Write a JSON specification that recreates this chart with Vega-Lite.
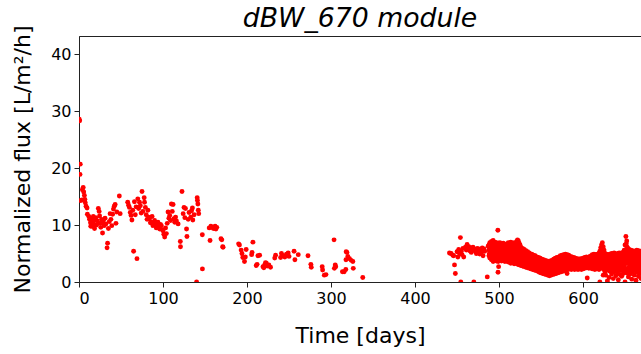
{
"$schema": "https://vega.github.io/schema/vega-lite/v6.json",
"autosize": {"type": "none"},
"padding": {"left": 79, "top": 36, "right": 0, "bottom": 72},
"width": 562,
"height": 246,
"title": {"text": "dBW_670 module", "font": "DejaVu Sans", "fontSize": 26.7, "fontStyle": "italic", "fontWeight": "normal", "color": "black", "anchor": "middle", "offset": -8},
"config": {
  "view": {"stroke": "#222", "strokeWidth": 1},
  "axis": {"domainColor": "#222", "tickColor": "#222", "labelColor": "black", "titleColor": "black", "labelFont": "DejaVu Sans", "titleFont": "DejaVu Sans", "labelFontSize": 16, "titleFontSize": 22, "titleFontWeight": "normal", "tickSize": 5, "labelPadding": 3, "grid": false}
},
"data": {"values": [
{"day":0.3,"flux":28.6},{"day":0.8,"flux":28.3},{"day":1.5,"flux":20.7},{"day":1.2,"flux":18.9},{"day":2,"flux":14.3},{"day":3.6,"flux":14.4},{"day":4,"flux":16.2},{"day":5,"flux":16.6},{"day":5.6,"flux":15.8},{"day":6.4,"flux":15.2},{"day":7,"flux":14.5},{"day":7.5,"flux":13.9},{"day":8.4,"flux":13.3},{"day":9.6,"flux":13.0},{"day":10,"flux":11.9},{"day":11.7,"flux":11.5},{"day":12.5,"flux":11.0},{"day":13.7,"flux":10.4},{"day":14,"flux":9.8},{"day":15,"flux":11.1},{"day":15.7,"flux":9.8},{"day":16.5,"flux":10.6},{"day":17,"flux":11.5},{"day":18,"flux":10.1},{"day":18.5,"flux":9.4},{"day":19,"flux":10.9},{"day":20,"flux":11.3},{"day":21,"flux":10.0},{"day":22,"flux":10.7},{"day":23,"flux":12.9},{"day":24,"flux":12.4},{"day":24.5,"flux":11.6},{"day":25,"flux":10.3},{"day":26,"flux":9.6},{"day":27,"flux":11.0},{"day":27.5,"flux":10.4},{"day":28,"flux":8.6},{"day":29,"flux":10.8},{"day":30,"flux":9.9},{"day":31,"flux":11.2},{"day":32,"flux":10.2},{"day":33.4,"flux":6.0},{"day":34,"flux":6.8},{"day":35,"flux":9.4},{"day":36,"flux":10.6},{"day":37,"flux":12.0},{"day":38,"flux":11.0},{"day":39,"flux":9.9},{"day":40,"flux":11.9},{"day":41,"flux":12.8},{"day":42,"flux":13.3},{"day":43,"flux":13.6},{"day":44,"flux":10.3},{"day":45,"flux":12.3},{"day":48,"flux":15.1},{"day":49,"flux":12.0},
{"day":58,"flux":14.0},{"day":59,"flux":13.5},{"day":60,"flux":13.1},{"day":61,"flux":12.2},{"day":62,"flux":11.7},{"day":63,"flux":10.9},{"day":64,"flux":12.6},{"day":65,"flux":5.4},{"day":66,"flux":14.1},{"day":67,"flux":11.8},{"day":68,"flux":13.2},{"day":69,"flux":4.1},{"day":70,"flux":14.6},{"day":71,"flux":12.9},{"day":72,"flux":14.0},{"day":73,"flux":13.4},{"day":74,"flux":12.1},{"day":75,"flux":15.9},{"day":76,"flux":12.4},{"day":77.6,"flux":14.8},{"day":78,"flux":14.0},{"day":79,"flux":13.1},{"day":80,"flux":11.8},{"day":81,"flux":11.0},{"day":82,"flux":12.6},{"day":83,"flux":11.4},{"day":84,"flux":11.1},{"day":85,"flux":10.4},{"day":86,"flux":10.5},{"day":87,"flux":11.5},{"day":88,"flux":9.9},{"day":89,"flux":10.2},{"day":90,"flux":10.8},{"day":91,"flux":10.0},{"day":92,"flux":9.5},{"day":93,"flux":10.4},{"day":94,"flux":10.5},{"day":95,"flux":9.7},{"day":96,"flux":9.3},{"day":97,"flux":10.1},{"day":98,"flux":9.9},{"day":99,"flux":9.2},{"day":100,"flux":9.0},{"day":101,"flux":8.4},{"day":102,"flux":7.9},{"day":103,"flux":9.5},{"day":104,"flux":8.5},{"day":105,"flux":10.3},{"day":106,"flux":12.3},{"day":107,"flux":11.2},{"day":108,"flux":11.7},{"day":109,"flux":10.8},{"day":110,"flux":13.7},{"day":111,"flux":12.4},{"day":112,"flux":13.6},{"day":113,"flux":11.1},{"day":114,"flux":10.5},{"day":115,"flux":11.4},{"day":116,"flux":10.7},{"day":118,"flux":10.2},{"day":120.6,"flux":7.1},{"day":120.8,"flux":6.2},{"day":122.6,"flux":15.9},{"day":124,"flux":12.0},{"day":125,"flux":13.1},{"day":126,"flux":11.3},{"day":126.7,"flux":12.9},{"day":128,"flux":9.3},{"day":128.5,"flux":8.0},{"day":130,"flux":11.0},{"day":131,"flux":12.2},{"day":133,"flux":11.4},{"day":134,"flux":12.5},{"day":135,"flux":13.0},{"day":135.5,"flux":10.9},{"day":137,"flux":11.8},{"day":140,"flux":0.0},{"day":140.7,"flux":14.8},{"day":141,"flux":14.3},{"day":141.5,"flux":13.7},{"day":142,"flux":12.6},{"day":142.5,"flux":12.0},{"day":146.8,"flux":8.3},{"day":146.9,"flux":2.3},{"day":155,"flux":9.5},{"day":156,"flux":7.3},{"day":157,"flux":9.8},{"day":158,"flux":9.6},{"day":160,"flux":9.4},{"day":162,"flux":9.8},{"day":163,"flux":9.3},{"day":164,"flux":9.6},{"day":169,"flux":7.6},{"day":170,"flux":7.4},{"day":171,"flux":6.2},{"day":171.5,"flux":6.1},
{"day":190,"flux":6.7},{"day":191,"flux":6.5},{"day":193,"flux":5.6},{"day":194,"flux":5.0},{"day":195,"flux":4.3},{"day":197,"flux":3.6},{"day":198,"flux":4.4},{"day":199,"flux":5.7},{"day":205.5,"flux":4.8},{"day":206,"flux":5.2},{"day":207,"flux":7.0},{"day":211,"flux":2.9},{"day":212,"flux":3.1},{"day":213,"flux":4.6},{"day":215,"flux":4.7},{"day":219,"flux":2.7},{"day":220,"flux":2.5},{"day":221,"flux":3.0},{"day":222,"flux":3.4},{"day":223,"flux":3.3},{"day":224,"flux":2.8},{"day":226,"flux":3.0},{"day":228,"flux":2.6},{"day":233,"flux":4.2},{"day":234,"flux":4.7},{"day":240,"flux":4.3},{"day":241,"flux":5.0},{"day":243,"flux":4.6},{"day":245,"flux":4.4},{"day":247,"flux":4.9},{"day":249,"flux":5.1},{"day":250,"flux":4.5},{"day":256,"flux":5.4},{"day":257,"flux":3.9},{"day":261,"flux":4.8},{"day":272.6,"flux":4.6},{"day":276,"flux":3.1},{"day":276.5,"flux":2.6},{"day":289.5,"flux":2.7},{"day":290,"flux":2.1},{"day":292,"flux":1.2},{"day":294,"flux":1.3},{"day":303.6,"flux":7.4},{"day":304,"flux":2.4},{"day":305,"flux":3.0},{"day":305.6,"flux":2.7},{"day":313.6,"flux":1.8},{"day":315.7,"flux":1.8},{"day":317.6,"flux":2.2},{"day":317.8,"flux":3.9},{"day":318,"flux":5.3},{"day":319,"flux":5.2},{"day":320,"flux":4.5},{"day":322,"flux":4.1},{"day":324,"flux":3.8},{"day":326,"flux":3.6},{"day":326.5,"flux":2.4},{"day":337.8,"flux":0.8},
{"day":441,"flux":5.1},{"day":443,"flux":5.0},{"day":445,"flux":4.7},{"day":446,"flux":4.6},{"day":447,"flux":3.0},{"day":448,"flux":1.5},{"day":450,"flux":5.3},{"day":451,"flux":4.4},{"day":452,"flux":5.7},{"day":453,"flux":5.0},{"day":454,"flux":7.8},{"day":454.5,"flux":0.0},{"day":455,"flux":5.4},{"day":456,"flux":4.8},{"day":457,"flux":5.9},{"day":458,"flux":4.4},{"day":460,"flux":6.1},{"day":461,"flux":5.6},{"day":462,"flux":6.6},{"day":463,"flux":5.9},{"day":464,"flux":6.2},{"day":465,"flux":5.5},{"day":466,"flux":6.0},{"day":467,"flux":5.2},{"day":468,"flux":5.8},{"day":469,"flux":6.1},{"day":470,"flux":0.0},{"day":471,"flux":5.5},{"day":472,"flux":5.7},{"day":473,"flux":5.0},{"day":474,"flux":5.9},{"day":475,"flux":5.4},{"day":476,"flux":5.8},{"day":477,"flux":4.9},{"day":478,"flux":5.6},{"day":479,"flux":5.2},{"day":480,"flux":6.0},{"day":481,"flux":4.6},{"day":482,"flux":5.8},{"day":483,"flux":5.4},{"day":486,"flux":0.9},{"day":487,"flux":6.3},{"day":498.6,"flux":9.1},{"day":498.8,"flux":1.7},{"day":499.5,"flux":2.7},
{"day":488,"flux":6.5},{"day":488,"flux":5.6},{"day":488,"flux":4.6},
{"day":489,"flux":6.9},{"day":489,"flux":5.9},{"day":489,"flux":4.2},
{"day":490,"flux":6.2},{"day":490,"flux":5.4},{"day":490,"flux":4.8},
{"day":491,"flux":7.1},{"day":491,"flux":5.7},{"day":491,"flux":3.9},
{"day":492,"flux":6.8},{"day":492,"flux":5.2},{"day":492,"flux":4.4},
{"day":493,"flux":7.3},{"day":493,"flux":6.0},{"day":493,"flux":3.6},
{"day":494,"flux":6.6},{"day":494,"flux":5.5},{"day":494,"flux":4.1},
{"day":495,"flux":7.0},{"day":495,"flux":5.8},{"day":495,"flux":3.8},
{"day":496,"flux":6.7},{"day":496,"flux":5.3},{"day":496,"flux":4.3},
{"day":497,"flux":6.9},{"day":497,"flux":5.6},{"day":497,"flux":3.7},
{"day":498,"flux":6.4},{"day":498,"flux":5.1},{"day":498,"flux":4.0},
{"day":499,"flux":6.8},{"day":499,"flux":5.5},{"day":499,"flux":3.6},
{"day":500,"flux":6.5},{"day":500,"flux":5.2},{"day":500,"flux":4.2},
{"day":501,"flux":6.9},{"day":501,"flux":5.4},{"day":501,"flux":3.9},
{"day":502,"flux":6.3},{"day":502,"flux":5.0},{"day":502,"flux":4.4},
{"day":503,"flux":6.7},{"day":503,"flux":5.3},{"day":503,"flux":3.7},
{"day":504,"flux":6.4},{"day":504,"flux":5.6},{"day":504,"flux":4.1},
{"day":505,"flux":6.8},{"day":505,"flux":5.1},{"day":505,"flux":3.8},
{"day":506,"flux":6.2},{"day":506,"flux":5.4},{"day":506,"flux":4.3},
{"day":507,"flux":6.6},{"day":507,"flux":4.9},{"day":507,"flux":3.6},
{"day":508,"flux":6.3},{"day":508,"flux":5.2},{"day":508,"flux":4.0},
{"day":509,"flux":6.7},{"day":509,"flux":5.5},{"day":509,"flux":3.7},
{"day":510,"flux":6.5},{"day":510,"flux":5.0},{"day":510,"flux":3.9},
{"day":511,"flux":6.9},{"day":511,"flux":5.3},{"day":511,"flux":3.5},
{"day":512,"flux":6.4},{"day":512,"flux":4.8},{"day":512,"flux":4.0},
{"day":513,"flux":6.8},{"day":513,"flux":5.2},{"day":513,"flux":3.6},
{"day":514,"flux":7.0},{"day":514,"flux":5.5},{"day":514,"flux":3.3},
{"day":515,"flux":6.6},{"day":515,"flux":5.0},{"day":515,"flux":3.8},
{"day":516,"flux":6.8},{"day":516,"flux":4.7},{"day":516,"flux":3.4},
{"day":517,"flux":6.3},{"day":517,"flux":5.1},{"day":517,"flux":3.7},
{"day":518,"flux":6.9},{"day":518,"flux":5.4},{"day":518,"flux":3.2},
{"day":519,"flux":6.5},{"day":519,"flux":4.9},{"day":519,"flux":3.6},
{"day":520,"flux":6.7},{"day":520,"flux":5.2},{"day":520,"flux":3.3},
{"day":521,"flux":7.1},{"day":521,"flux":5.0},{"day":521,"flux":3.6},
{"day":522,"flux":7.4},{"day":522,"flux":5.4},{"day":522,"flux":3.1},
{"day":523,"flux":7.2},{"day":523,"flux":5.1},{"day":523,"flux":3.5},
{"day":524,"flux":6.8},{"day":524,"flux":4.8},{"day":524,"flux":3.0},
{"day":525,"flux":6.5},{"day":525,"flux":5.0},{"day":525,"flux":3.4},
{"day":526,"flux":6.1},{"day":526,"flux":4.6},{"day":526,"flux":2.9},
{"day":527,"flux":5.8},{"day":527,"flux":4.4},{"day":527,"flux":3.3},
{"day":528,"flux":5.9},{"day":528,"flux":4.6},{"day":528,"flux":2.8},
{"day":529,"flux":5.5},{"day":529,"flux":4.2},{"day":529,"flux":3.1},
{"day":530,"flux":5.7},{"day":530,"flux":4.0},{"day":530,"flux":2.7},
{"day":531,"flux":5.3},{"day":531,"flux":4.3},{"day":531,"flux":3.0},
{"day":532,"flux":5.5},{"day":532,"flux":3.9},{"day":532,"flux":2.6},
{"day":533,"flux":5.1},{"day":533,"flux":4.1},{"day":533,"flux":2.9},
{"day":534,"flux":5.3},{"day":534,"flux":3.8},{"day":534,"flux":2.5},
{"day":535,"flux":4.9},{"day":535,"flux":3.7},{"day":535,"flux":2.8},
{"day":536,"flux":5.1},{"day":536,"flux":3.9},{"day":536,"flux":2.4},
{"day":537,"flux":4.8},{"day":537,"flux":3.5},{"day":537,"flux":2.7},
{"day":538,"flux":4.6},{"day":538,"flux":3.7},{"day":538,"flux":2.3},
{"day":539,"flux":4.9},{"day":539,"flux":3.4},{"day":539,"flux":2.6},
{"day":540,"flux":4.5},{"day":540,"flux":3.3},{"day":540,"flux":2.2},
{"day":541,"flux":4.7},{"day":541,"flux":3.6},{"day":541,"flux":2.5},
{"day":542,"flux":4.4},{"day":542,"flux":3.2},{"day":542,"flux":2.1},
{"day":543,"flux":4.6},{"day":543,"flux":3.4},{"day":543,"flux":2.4},
{"day":544,"flux":4.2},{"day":544,"flux":3.0},{"day":544,"flux":2.0},
{"day":545,"flux":4.4},{"day":545,"flux":3.2},{"day":545,"flux":2.2},
{"day":546,"flux":4.1},{"day":546,"flux":2.9},{"day":546,"flux":1.9},
{"day":547,"flux":4.3},{"day":547,"flux":3.1},{"day":547,"flux":2.1},
{"day":548,"flux":3.9},{"day":548,"flux":2.8},{"day":548,"flux":1.7},
{"day":549,"flux":4.2},{"day":549,"flux":3.0},{"day":549,"flux":2.0},
{"day":550,"flux":3.8},{"day":550,"flux":2.7},{"day":550,"flux":1.6},
{"day":551,"flux":4.0},{"day":551,"flux":2.9},{"day":551,"flux":1.9},
{"day":552,"flux":3.7},{"day":552,"flux":2.6},{"day":552,"flux":1.5},
{"day":553,"flux":3.9},{"day":553,"flux":2.8},{"day":553,"flux":1.8},
{"day":554,"flux":3.6},{"day":554,"flux":2.5},{"day":554,"flux":1.4},
{"day":555,"flux":3.8},{"day":555,"flux":2.7},{"day":555,"flux":1.7},
{"day":556,"flux":3.5},{"day":556,"flux":2.4},{"day":556,"flux":1.3},
{"day":557,"flux":3.7},{"day":557,"flux":2.6},{"day":557,"flux":1.6},
{"day":558,"flux":3.4},{"day":558,"flux":2.3},{"day":558,"flux":1.2},
{"day":559,"flux":3.6},{"day":559,"flux":2.5},{"day":559,"flux":1.5},
{"day":560,"flux":3.5},{"day":560,"flux":2.2},{"day":560,"flux":1.1},
{"day":561,"flux":3.7},{"day":561,"flux":2.4},{"day":561,"flux":1.4},
{"day":562,"flux":3.4},{"day":562,"flux":2.6},{"day":562,"flux":1.2},
{"day":563,"flux":3.8},{"day":563,"flux":2.3},{"day":563,"flux":1.5},
{"day":564,"flux":3.6},{"day":564,"flux":2.7},{"day":564,"flux":1.3},
{"day":565,"flux":4.0},{"day":565,"flux":2.5},{"day":565,"flux":1.6},
{"day":566,"flux":3.8},{"day":566,"flux":2.8},{"day":566,"flux":1.4},
{"day":567,"flux":4.2},{"day":567,"flux":2.6},{"day":567,"flux":1.7},
{"day":568,"flux":4.0},{"day":568,"flux":3.0},{"day":568,"flux":1.5},
{"day":569,"flux":4.3},{"day":569,"flux":2.8},{"day":569,"flux":1.8},
{"day":570,"flux":4.1},{"day":570,"flux":3.1},{"day":570,"flux":1.6},
{"day":571,"flux":4.4},{"day":571,"flux":2.9},{"day":571,"flux":1.9},
{"day":572,"flux":4.2},{"day":572,"flux":3.2},{"day":572,"flux":1.7},
{"day":573,"flux":4.6},{"day":573,"flux":3.0},{"day":573,"flux":2.0},
{"day":574,"flux":4.3},{"day":574,"flux":3.3},{"day":574,"flux":1.8},
{"day":575,"flux":4.7},{"day":575,"flux":3.1},{"day":575,"flux":2.1},
{"day":576,"flux":4.5},{"day":576,"flux":3.5},{"day":576,"flux":1.9},
{"day":577,"flux":4.8},{"day":577,"flux":3.3},{"day":577,"flux":2.2},
{"day":578,"flux":4.4},{"day":578,"flux":3.6},{"day":578,"flux":2.0},
{"day":579,"flux":4.9},{"day":579,"flux":3.4},{"day":579,"flux":2.3},
{"day":580,"flux":4.6},{"day":580,"flux":3.7},{"day":580,"flux":2.1},
{"day":581,"flux":4.8},{"day":581,"flux":3.5},{"day":581,"flux":1.5},
{"day":582,"flux":4.5},{"day":582,"flux":3.3},{"day":582,"flux":2.2},
{"day":583,"flux":4.7},{"day":583,"flux":3.6},{"day":583,"flux":2.5},
{"day":584,"flux":4.3},{"day":584,"flux":3.4},{"day":584,"flux":2.3},
{"day":585,"flux":4.5},{"day":585,"flux":3.2},{"day":585,"flux":2.4},
{"day":586,"flux":4.2},{"day":586,"flux":3.5},{"day":586,"flux":2.2},
{"day":587,"flux":4.4},{"day":587,"flux":3.1},{"day":587,"flux":2.5},
{"day":588,"flux":4.1},{"day":588,"flux":3.3},{"day":588,"flux":2.3},
{"day":589,"flux":4.3},{"day":589,"flux":3.0},{"day":589,"flux":2.4},
{"day":590,"flux":4.0},{"day":590,"flux":3.2},{"day":590,"flux":2.2},
{"day":591,"flux":4.2},{"day":591,"flux":3.4},{"day":591,"flux":2.5},
{"day":592,"flux":3.9},{"day":592,"flux":3.1},{"day":592,"flux":2.3},
{"day":593,"flux":4.1},{"day":593,"flux":3.3},{"day":593,"flux":2.4},
{"day":594,"flux":3.8},{"day":594,"flux":3.0},{"day":594,"flux":2.2},
{"day":595,"flux":4.0},{"day":595,"flux":3.2},{"day":595,"flux":2.5},
{"day":596,"flux":3.9},{"day":596,"flux":3.4},{"day":596,"flux":2.3},
{"day":597,"flux":4.1},{"day":597,"flux":3.1},{"day":597,"flux":2.4},
{"day":598,"flux":3.8},{"day":598,"flux":3.3},{"day":598,"flux":2.2},
{"day":599,"flux":4.0},{"day":599,"flux":3.0},{"day":599,"flux":2.5},
{"day":600,"flux":4.2},{"day":600,"flux":3.2},{"day":600,"flux":2.3},
{"day":601,"flux":4.0},{"day":601,"flux":3.4},{"day":601,"flux":2.6},
{"day":602,"flux":4.3},{"day":602,"flux":3.1},{"day":602,"flux":2.4},
{"day":603,"flux":4.1},{"day":603,"flux":3.3},{"day":603,"flux":2.7},
{"day":604,"flux":4.4},{"day":604,"flux":3.5},{"day":604,"flux":2.5},
{"day":605,"flux":4.2},{"day":605,"flux":3.2},{"day":605,"flux":0.7},
{"day":606,"flux":4.3},{"day":606,"flux":3.4},{"day":606,"flux":2.6},
{"day":607,"flux":4.1},{"day":607,"flux":3.1},{"day":607,"flux":2.4},
{"day":608,"flux":4.5},{"day":608,"flux":3.5},{"day":608,"flux":2.7},
{"day":609,"flux":4.3},{"day":609,"flux":3.3},{"day":609,"flux":2.5},
{"day":610,"flux":4.6},{"day":610,"flux":3.6},{"day":610,"flux":2.6},
{"day":611,"flux":4.8},{"day":611,"flux":3.4},{"day":611,"flux":2.3},
{"day":612,"flux":4.5},{"day":612,"flux":3.7},{"day":612,"flux":2.6},
{"day":613,"flux":4.9},{"day":613,"flux":3.5},{"day":613,"flux":2.4},
{"day":614,"flux":4.6},{"day":614,"flux":3.8},{"day":614,"flux":2.2},
{"day":615,"flux":4.8},{"day":615,"flux":3.6},{"day":615,"flux":2.5},
{"day":616,"flux":4.5},{"day":616,"flux":3.4},{"day":616,"flux":2.3},
{"day":617,"flux":4.9},{"day":617,"flux":3.7},{"day":617,"flux":2.6},
{"day":618,"flux":4.7},{"day":618,"flux":3.5},{"day":618,"flux":2.4},
{"day":619,"flux":5.0},{"day":619,"flux":3.8},{"day":619,"flux":2.2},
{"day":620,"flux":5.4},{"day":620,"flux":4.0},{"day":620,"flux":0.0},
{"day":621,"flux":6.0},{"day":621,"flux":4.3},{"day":621,"flux":2.7},
{"day":622,"flux":6.5},{"day":622,"flux":4.7},{"day":622,"flux":2.4},
{"day":623,"flux":6.9},{"day":623,"flux":5.2},{"day":623,"flux":2.8},
{"day":624,"flux":6.2},{"day":624,"flux":4.6},{"day":624,"flux":1.2},
{"day":625,"flux":5.6},{"day":625,"flux":4.1},{"day":625,"flux":2.2},
{"day":626,"flux":5.0},{"day":626,"flux":3.7},{"day":626,"flux":1.8},
{"day":627,"flux":4.7},{"day":627,"flux":3.5},{"day":627,"flux":1.2},
{"day":628,"flux":4.9},{"day":628,"flux":3.8},{"day":628,"flux":2.0},
{"day":629,"flux":4.6},{"day":629,"flux":3.4},{"day":629,"flux":0.2},
{"day":630,"flux":4.8},{"day":630,"flux":3.6},{"day":630,"flux":2.3},
{"day":631,"flux":4.5},{"day":631,"flux":3.3},{"day":631,"flux":0.8},
{"day":632,"flux":4.9},{"day":632,"flux":3.7},{"day":632,"flux":1.9},
{"day":633,"flux":4.7},{"day":633,"flux":3.4},{"day":633,"flux":2.4},
{"day":634,"flux":5.0},{"day":634,"flux":3.8},{"day":634,"flux":1.4},
{"day":635,"flux":4.6},{"day":635,"flux":3.5},{"day":635,"flux":2.1},
{"day":636,"flux":4.8},{"day":636,"flux":3.2},{"day":636,"flux":0.6},
{"day":637,"flux":5.1},{"day":637,"flux":3.6},{"day":637,"flux":1.8},
{"day":638,"flux":4.7},{"day":638,"flux":3.9},{"day":638,"flux":2.3},
{"day":639,"flux":4.9},{"day":639,"flux":3.4},{"day":639,"flux":1.1},
{"day":640,"flux":4.6},{"day":640,"flux":3.7},{"day":640,"flux":2.0},
{"day":641,"flux":5.0},{"day":641,"flux":3.3},{"day":641,"flux":1.6},
{"day":642,"flux":4.8},{"day":642,"flux":3.6},{"day":642,"flux":0.4},
{"day":643,"flux":5.1},{"day":643,"flux":3.9},{"day":643,"flux":2.2},
{"day":644,"flux":4.7},{"day":644,"flux":3.5},{"day":644,"flux":1.3},
{"day":645,"flux":5.0},{"day":645,"flux":3.8},{"day":645,"flux":2.0},
{"day":646,"flux":4.8},{"day":646,"flux":3.4},{"day":646,"flux":1.0},
{"day":647,"flux":5.2},{"day":647,"flux":3.7},{"day":647,"flux":2.3},
{"day":648,"flux":5.0},{"day":648,"flux":3.9},{"day":648,"flux":1.5},
{"day":649,"flux":5.6},{"day":649,"flux":4.2},{"day":649,"flux":2.1},
{"day":650,"flux":6.5},{"day":650,"flux":4.8},{"day":650,"flux":0.0},
{"day":651,"flux":8.0},{"day":651,"flux":5.5},{"day":651,"flux":2.4},
{"day":652,"flux":7.2},{"day":652,"flux":5.0},{"day":652,"flux":1.6},
{"day":653,"flux":6.0},{"day":653,"flux":4.4},{"day":653,"flux":2.2},
{"day":654,"flux":5.5},{"day":654,"flux":4.0},{"day":654,"flux":0.9},
{"day":655,"flux":5.7},{"day":655,"flux":4.3},{"day":655,"flux":2.0},
{"day":656,"flux":5.3},{"day":656,"flux":3.9},{"day":656,"flux":1.4},
{"day":657,"flux":5.6},{"day":657,"flux":3.6},{"day":657,"flux":2.5},
{"day":658,"flux":5.2},{"day":658,"flux":4.1},{"day":658,"flux":0.5},
{"day":659,"flux":5.5},{"day":659,"flux":3.8},{"day":659,"flux":1.8},
{"day":660,"flux":5.1},{"day":660,"flux":3.5},{"day":660,"flux":2.3},
{"day":661,"flux":5.4},{"day":661,"flux":4.0},{"day":661,"flux":1.2},
{"day":662,"flux":5.0},{"day":662,"flux":3.7},{"day":662,"flux":2.1},
{"day":663,"flux":5.3},{"day":663,"flux":3.4},{"day":663,"flux":0.3},
{"day":664,"flux":5.6},{"day":664,"flux":3.9},{"day":664,"flux":1.7},
{"day":665,"flux":5.2},{"day":665,"flux":3.6},{"day":665,"flux":2.4},
{"day":666,"flux":5.5},{"day":666,"flux":4.1},{"day":666,"flux":1.0},
{"day":667,"flux":5.1},{"day":667,"flux":3.8},{"day":667,"flux":2.0},
{"day":668,"flux":5.4},{"day":668,"flux":3.5},{"day":668,"flux":1.5},
{"day":669,"flux":5.0},{"day":669,"flux":3.9},{"day":669,"flux":0.6},
{"day":488.5,"flux":6.2},{"day":488.5,"flux":5.0},{"day":489.5,"flux":6.3},{"day":489.5,"flux":4.9},{"day":490.5,"flux":6.0},{"day":490.5,"flux":5.0},{"day":491.5,"flux":6.4},{"day":491.5,"flux":4.7},{"day":492.5,"flux":6.5},{"day":492.5,"flux":4.6},{"day":493.5,"flux":6.6},{"day":493.5,"flux":4.8},{"day":494.5,"flux":6.1},{"day":494.5,"flux":4.7},{"day":495.5,"flux":6.4},{"day":495.5,"flux":4.9},{"day":496.5,"flux":6.0},{"day":496.5,"flux":4.6},{"day":497.5,"flux":6.2},{"day":497.5,"flux":4.5},{"day":498.5,"flux":5.8},{"day":498.5,"flux":4.6},{"day":499.5,"flux":6.1},{"day":499.5,"flux":4.5},
{"day":500.5,"flux":5.9},{"day":500.5,"flux":4.6},{"day":501.5,"flux":6.2},{"day":501.5,"flux":4.4},{"day":502.5,"flux":5.7},{"day":502.5,"flux":4.7},{"day":503.5,"flux":6.0},{"day":503.5,"flux":4.4},{"day":504.5,"flux":5.9},{"day":504.5,"flux":4.8},{"day":505.5,"flux":6.0},{"day":505.5,"flux":4.4},{"day":506.5,"flux":5.8},{"day":506.5,"flux":4.8},{"day":507.5,"flux":5.7},{"day":507.5,"flux":4.2},{"day":508.5,"flux":5.8},{"day":508.5,"flux":4.5},{"day":509.5,"flux":6.1},{"day":509.5,"flux":4.6},
{"day":510.5,"flux":5.7},{"day":510.5,"flux":4.4},{"day":511.5,"flux":6.1},{"day":511.5,"flux":4.3},{"day":512.5,"flux":5.6},{"day":512.5,"flux":4.4},{"day":513.5,"flux":6.0},{"day":513.5,"flux":4.3},{"day":514.5,"flux":6.2},{"day":514.5,"flux":4.3},{"day":515.5,"flux":5.8},{"day":515.5,"flux":4.4},{"day":516.5,"flux":5.7},{"day":516.5,"flux":4.0},{"day":517.5,"flux":5.7},{"day":517.5,"flux":4.4},{"day":518.5,"flux":6.1},{"day":518.5,"flux":4.2},{"day":519.5,"flux":5.7},{"day":519.5,"flux":4.2},
{"day":520.5,"flux":6.0},{"day":520.5,"flux":4.2},{"day":521.5,"flux":6.1},{"day":521.5,"flux":4.3},{"day":522.5,"flux":6.3},{"day":522.5,"flux":4.2},{"day":523.5,"flux":6.1},{"day":523.5,"flux":4.2},{"day":524.5,"flux":5.8},{"day":524.5,"flux":3.9},{"day":525.5,"flux":5.7},{"day":525.5,"flux":4.1},{"day":526.5,"flux":5.3},{"day":526.5,"flux":3.7},{"day":527.5,"flux":5.1},{"day":527.5,"flux":3.8},{"day":528.5,"flux":5.2},{"day":528.5,"flux":3.6},{"day":529.5,"flux":4.9},{"day":529.5,"flux":3.6},
{"day":530.5,"flux":4.9},{"day":530.5,"flux":3.3},{"day":531.5,"flux":4.8},{"day":531.5,"flux":3.6},{"day":532.5,"flux":4.7},{"day":532.5,"flux":3.2},{"day":533.5,"flux":4.6},{"day":533.5,"flux":3.5},{"day":534.5,"flux":4.5},{"day":534.5,"flux":3.1},{"day":535.5,"flux":4.3},{"day":535.5,"flux":3.2},{"day":536.5,"flux":4.5},{"day":536.5,"flux":3.1},{"day":537.5,"flux":4.1},{"day":537.5,"flux":3.1},{"day":538.5,"flux":4.1},{"day":538.5,"flux":3.0},{"day":539.5,"flux":4.2},{"day":539.5,"flux":2.9},
{"day":540.5,"flux":3.9},{"day":540.5,"flux":2.7},{"day":541.5,"flux":4.1},{"day":541.5,"flux":3.0},{"day":542.5,"flux":3.8},{"day":542.5,"flux":2.6},{"day":543.5,"flux":4.0},{"day":543.5,"flux":2.9},{"day":544.5,"flux":3.6},{"day":544.5,"flux":2.5},{"day":545.5,"flux":3.8},{"day":545.5,"flux":2.7},{"day":546.5,"flux":3.5},{"day":546.5,"flux":2.4},{"day":547.5,"flux":3.7},{"day":547.5,"flux":2.6},{"day":548.5,"flux":3.4},{"day":548.5,"flux":2.2},{"day":549.5,"flux":3.6},{"day":549.5,"flux":2.5},
{"day":550.5,"flux":3.3},{"day":550.5,"flux":2.1},{"day":551.5,"flux":3.4},{"day":551.5,"flux":2.4},{"day":552.5,"flux":3.2},{"day":552.5,"flux":2.0},{"day":553.5,"flux":3.3},{"day":553.5,"flux":2.3},{"day":554.5,"flux":3.1},{"day":554.5,"flux":1.9},{"day":555.5,"flux":3.2},{"day":555.5,"flux":2.2},{"day":556.5,"flux":3.0},{"day":556.5,"flux":1.8},{"day":557.5,"flux":3.1},{"day":557.5,"flux":2.1},{"day":558.5,"flux":2.9},{"day":558.5,"flux":1.7},{"day":559.5,"flux":3.0},{"day":559.5,"flux":2.0},
{"day":560.5,"flux":2.9},{"day":560.5,"flux":1.6},{"day":561.5,"flux":3.1},{"day":561.5,"flux":1.9},{"day":562.5,"flux":3.0},{"day":562.5,"flux":1.8},{"day":563.5,"flux":3.1},{"day":563.5,"flux":2.0},{"day":564.5,"flux":3.2},{"day":564.5,"flux":1.9},{"day":565.5,"flux":3.2},{"day":565.5,"flux":2.1},{"day":566.5,"flux":3.3},{"day":566.5,"flux":2.0},{"day":567.5,"flux":3.4},{"day":567.5,"flux":2.2},{"day":568.5,"flux":3.5},{"day":568.5,"flux":2.2},{"day":569.5,"flux":3.5},{"day":569.5,"flux":2.3},
{"day":570.5,"flux":3.6},{"day":570.5,"flux":2.3},{"day":571.5,"flux":3.6},{"day":571.5,"flux":2.5},{"day":572.5,"flux":3.7},{"day":572.5,"flux":2.4},{"day":573.5,"flux":3.8},{"day":573.5,"flux":2.5},{"day":574.5,"flux":3.8},{"day":574.5,"flux":2.5},{"day":575.5,"flux":3.9},{"day":575.5,"flux":2.6},{"day":576.5,"flux":4.0},{"day":576.5,"flux":2.7},{"day":577.5,"flux":4.1},{"day":577.5,"flux":2.8},{"day":578.5,"flux":4.0},{"day":578.5,"flux":2.8},{"day":579.5,"flux":4.2},{"day":579.5,"flux":2.9},
{"day":580.5,"flux":4.1},{"day":580.5,"flux":2.9},{"day":581.5,"flux":4.2},{"day":581.5,"flux":2.8},{"day":582.5,"flux":3.9},{"day":582.5,"flux":2.8},{"day":583.5,"flux":4.2},{"day":583.5,"flux":3.0},{"day":584.5,"flux":3.8},{"day":584.5,"flux":2.9},{"day":585.5,"flux":3.8},{"day":585.5,"flux":2.8},{"day":586.5,"flux":3.8},{"day":586.5,"flux":2.9},{"day":587.5,"flux":3.7},{"day":587.5,"flux":2.8},{"day":588.5,"flux":3.7},{"day":588.5,"flux":2.8},{"day":589.5,"flux":3.6},{"day":589.5,"flux":2.7},
{"day":590.5,"flux":3.6},{"day":590.5,"flux":2.7},{"day":591.5,"flux":3.8},{"day":591.5,"flux":2.9},{"day":592.5,"flux":3.5},{"day":592.5,"flux":2.7},{"day":593.5,"flux":3.7},{"day":593.5,"flux":2.8},{"day":594.5,"flux":3.4},{"day":594.5,"flux":2.6},{"day":595.5,"flux":3.6},{"day":595.5,"flux":2.8},{"day":596.5,"flux":3.7},{"day":596.5,"flux":2.8},{"day":597.5,"flux":3.6},{"day":597.5,"flux":2.7},{"day":598.5,"flux":3.5},{"day":598.5,"flux":2.7},{"day":599.5,"flux":3.6},{"day":599.5,"flux":2.7},
{"day":600.5,"flux":3.7},{"day":600.5,"flux":2.8},{"day":601.5,"flux":3.7},{"day":601.5,"flux":3.0},{"day":602.5,"flux":3.7},{"day":602.5,"flux":2.7},{"day":603.5,"flux":3.7},{"day":603.5,"flux":3.0},{"day":604.5,"flux":3.9},{"day":604.5,"flux":3.0},{"day":605.5,"flux":3.7},{"day":605.5,"flux":2.9},{"day":606.5,"flux":3.8},{"day":606.5,"flux":3.0},{"day":607.5,"flux":3.6},{"day":607.5,"flux":2.7},{"day":608.5,"flux":4.0},{"day":608.5,"flux":3.1},{"day":609.5,"flux":3.8},{"day":609.5,"flux":2.9},
{"day":610.5,"flux":4.1},{"day":610.5,"flux":3.1},{"day":611.5,"flux":4.1},{"day":611.5,"flux":2.8},{"day":612.5,"flux":4.1},{"day":612.5,"flux":3.1},{"day":613.5,"flux":4.2},{"day":613.5,"flux":3.0},{"day":614.5,"flux":4.2},{"day":614.5,"flux":3.0},{"day":615.5,"flux":4.2},{"day":615.5,"flux":3.0},{"day":616.5,"flux":4.0},{"day":616.5,"flux":2.8},{"day":617.5,"flux":4.3},{"day":617.5,"flux":3.1},{"day":618.5,"flux":4.1},{"day":618.5,"flux":2.9},{"day":619.5,"flux":4.4},{"day":619.5,"flux":3.0},
{"day":620.5,"flux":4.7},{"day":620.5,"flux":3.2},{"day":621.5,"flux":5.2},{"day":621.5,"flux":3.5},{"day":622.5,"flux":5.6},{"day":622.5,"flux":3.6},{"day":623.5,"flux":6.0},{"day":623.5,"flux":3.9},{"day":624.5,"flux":5.4},{"day":624.5,"flux":3.4},{"day":625.5,"flux":4.8},{"day":625.5,"flux":3.0},{"day":626.5,"flux":4.3},{"day":626.5,"flux":2.7},{"day":627.5,"flux":4.2},{"day":627.5,"flux":2.6},{"day":628.5,"flux":4.3},{"day":628.5,"flux":2.9},{"day":629.5,"flux":4.0},{"day":629.5,"flux":2.5},
{"day":630.5,"flux":4.2},{"day":630.5,"flux":2.9},{"day":631.5,"flux":4.0},{"day":631.5,"flux":2.4},{"day":632.5,"flux":4.3},{"day":632.5,"flux":2.8},{"day":633.5,"flux":4.0},{"day":633.5,"flux":2.9},{"day":634.5,"flux":4.4},{"day":634.5,"flux":2.6},{"day":635.5,"flux":4.0},{"day":635.5,"flux":2.8},{"day":636.5,"flux":4.0},{"day":636.5,"flux":2.4},{"day":637.5,"flux":4.3},{"day":637.5,"flux":2.7},{"day":638.5,"flux":4.3},{"day":638.5,"flux":3.0},{"day":639.5,"flux":4.1},{"day":639.5,"flux":2.3},
{"day":640.5,"flux":4.1},{"day":640.5,"flux":2.8},{"day":641.5,"flux":4.1},{"day":641.5,"flux":2.5},{"day":642.5,"flux":4.2},{"day":642.5,"flux":2.0},{"day":643.5,"flux":4.5},{"day":643.5,"flux":3.0},{"day":644.5,"flux":4.1},{"day":644.5,"flux":2.4},{"day":645.5,"flux":4.4},{"day":645.5,"flux":2.9},{"day":646.5,"flux":4.1},{"day":646.5,"flux":2.2},{"day":647.5,"flux":4.4},{"day":647.5,"flux":3.0},{"day":648.5,"flux":4.4},{"day":648.5,"flux":2.7},{"day":649.5,"flux":4.9},{"day":649.5,"flux":3.1},
{"day":650.5,"flux":5.6},{"day":650.5,"flux":3.3},{"day":651.5,"flux":6.7},{"day":651.5,"flux":3.9},{"day":652.5,"flux":6.1},{"day":652.5,"flux":3.3},{"day":653.5,"flux":5.2},{"day":653.5,"flux":3.3},{"day":654.5,"flux":4.7},{"day":654.5,"flux":2.5},{"day":655.5,"flux":5.0},{"day":655.5,"flux":3.1},{"day":656.5,"flux":4.6},{"day":656.5,"flux":2.7},{"day":657.5,"flux":4.6},{"day":657.5,"flux":3.0},{"day":658.5,"flux":4.6},{"day":658.5,"flux":2.3},{"day":659.5,"flux":4.6},{"day":659.5,"flux":2.8},
{"day":660.5,"flux":4.3},{"day":660.5,"flux":2.9},{"day":661.5,"flux":4.7},{"day":661.5,"flux":2.6},{"day":662.5,"flux":4.3},{"day":662.5,"flux":2.9},{"day":663.5,"flux":4.3},{"day":663.5,"flux":1.9},{"day":664.5,"flux":4.7},{"day":664.5,"flux":2.8},{"day":665.5,"flux":4.4},{"day":665.5,"flux":3.0},{"day":666.5,"flux":4.8},{"day":666.5,"flux":2.6},{"day":667.5,"flux":4.4},{"day":667.5,"flux":2.9},{"day":668.5,"flux":4.4},{"day":668.5,"flux":2.5}
]},
"mark": {"type": "point", "filled": true, "color": "#ff0000", "opacity": 1, "size": 24, "clip": true},
"encoding": {
  "x": {"field": "day", "type": "quantitative", "scale": {"domain": [0, 669], "nice": false, "zero": false}, "axis": {"title": "Time [days]", "values": [0, 100, 200, 300, 400, 500, 600], "titlePadding": 19}},
  "y": {"field": "flux", "type": "quantitative", "scale": {"domain": [0, 43.2], "nice": false}, "axis": {"title": "Normalized flux [L/m²/h]", "values": [0, 10, 20, 30, 40], "titlePadding": 16}}
}
}
